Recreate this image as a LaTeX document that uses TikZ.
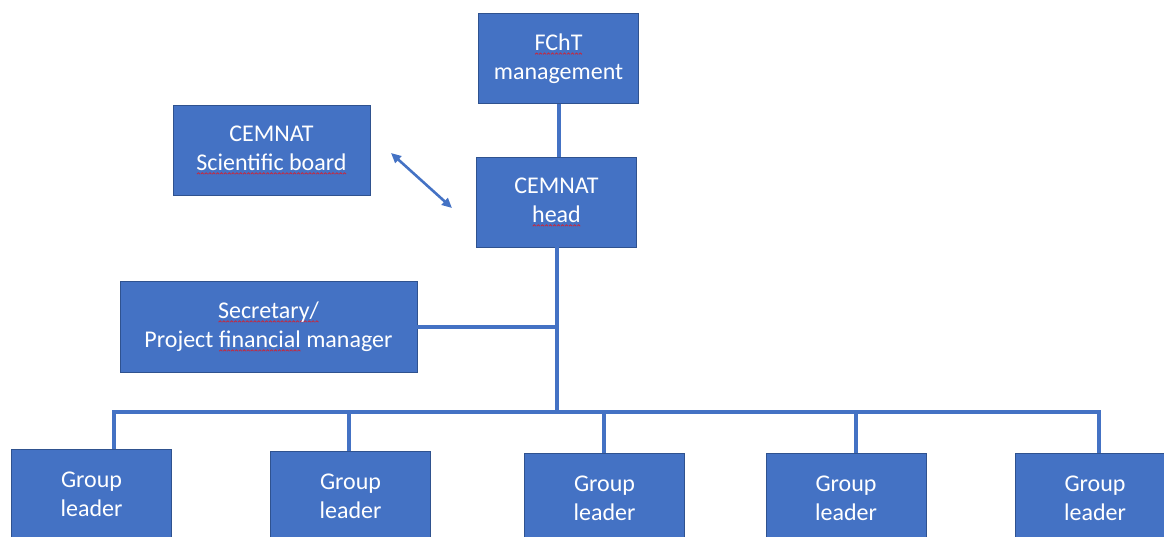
\documentclass[tikz,border=0pt]{standalone}
\usepackage{fontspec}
\setmainfont{Carlito}
\usepackage{xcolor}
\usepackage{tikz}
\usetikzlibrary{arrows.meta}
\definecolor{orgblue}{HTML}{4472C4}
\definecolor{orgedge}{HTML}{2F528F}
\definecolor{wavered}{HTML}{C8283C}
\newcommand\redwave[1]{\leavevmode\setbox0\hbox{#1}\rlap{\raisebox{-4.5pt}{\hbox to\wd0{\xleaders\hbox{\tikz\draw[wavered, line width=0.8pt] (0pt,0pt) -- (1.5pt,1.4pt) -- (3pt,0pt);}\hfil}}}\box0\relax}

\begin{document}
\begin{tikzpicture}[x=1pt, y=-1pt,
	orgbox/.style={draw=orgedge, line width=0.8pt, fill=orgblue, text=white, align=center,
		inner sep=0pt, minimum width=160pt, minimum height=90pt, font=\fontsize{24}{29}\selectfont},
	link/.style={draw=orgblue, line width=4pt}]
				\useasboundingbox (0, 0) rectangle (1164, 537);
				\clip (0, 0) rectangle (1164, 537);
				\node[orgbox] (fcht) at (558.5, 58.5) {\redwave{FChT}\\management};
				\node[orgbox] (head) at (556.5, 202) {CEMNAT\\\redwave{head}};
				\node[orgbox, minimum width=197pt] (board) at (271.5, 150) {CEMNAT\\\redwave{Scientific board}};
				\node[orgbox, minimum width=297pt, minimum height=91pt] (secr) at (268.5, 326.5) {\redwave{Secretary/}\\Project \redwave{financial} manager};
				\node[orgbox] (g1) at (91.5, 494) {Group\\leader};
				\node[orgbox] (g2) at (350.5, 496) {Group\\leader};
				\node[orgbox] (g3) at (604.5, 498) {Group\\leader};
				\node[orgbox] (g4) at (846, 498) {Group\\leader};
				\node[orgbox] (g5) at (1095, 498) {Group\\leader};
				\coordinate (hub) at (head.south |- 0, 412);
				\coordinate (bd) at (391, 153);
				\coordinate (hd) at (452, 208);
				\draw[link] (fcht.south) -- (fcht.south |- head.north);
				\draw[link] (head.south) -- (hub);
				\draw[link] (secr.east) -- (secr.east -| hub);
				\draw[link] (g1.north -| 114, 0) |- (hub) -| (g5.north -| 1099, 0);
				\draw[link] (hub -| 349, 0) -- (g2.north -| 349, 0);
				\draw[link] (hub -| 604, 0) -- (g3.north -| 604, 0);
				\draw[link] (hub -| 856, 0) -- (g4.north -| 856, 0);
				\draw[link, line width=2.6pt, {Triangle[length=10pt,width=9pt]}-{Triangle[length=10pt,width=9pt]}] (bd) -- (hd);
\end{tikzpicture}
\end{document}
